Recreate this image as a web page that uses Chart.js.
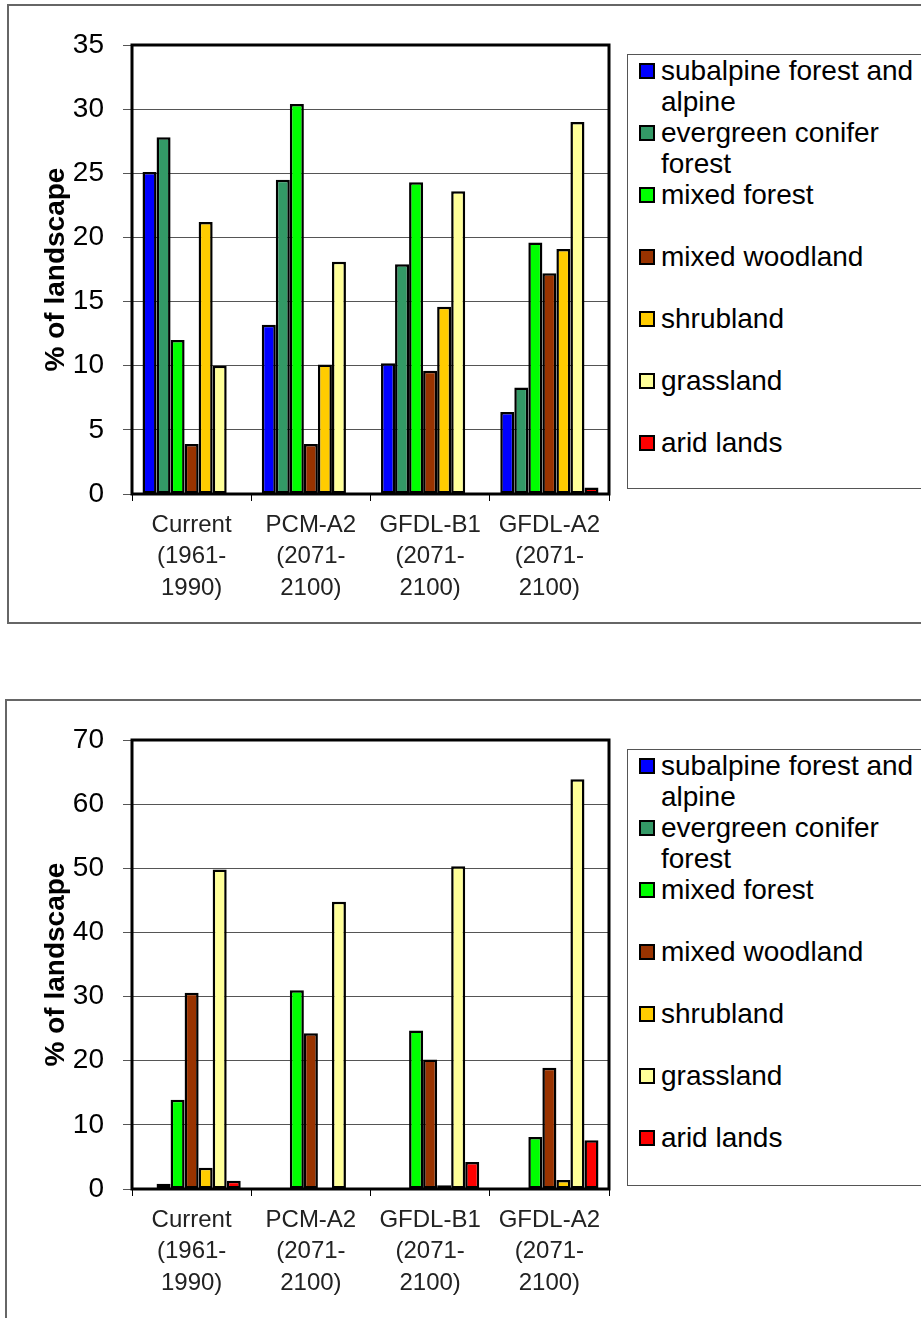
<!DOCTYPE html>
<html lang="en">
<head>
<meta charset="UTF-8">
<title>% of landscape</title>
<script src="https://cdn.jsdelivr.net/npm/chart.js"></script>
<style>
  body {
    margin: 0;
    width: 921px;
    height: 1318px;
    overflow: hidden;
    background: #fff;
    position: relative;
    font-family: Arial, "Liberation Sans", sans-serif;
  }
  .frame {
    position: absolute;
    border: 2px solid #666;
    width: 1000px;
  }
  #frame1 { left: 7px; top: 4px; height: 616px; }
  #frame2 { left: 5px; top: 699px; height: 700px; }
  canvas { position: absolute; left: 0; }
  #chart1 { top: 0; }
  #chart2 { top: 695px; }
  .legend {
    position: absolute;
    left: 627px;
    width: 400px;
    height: 433px;
    border: 1px solid #555;
    font-size: 28px;
    color: #000;
  }
  #legend1 { top: 54px; }
  #legend2 { top: 749px; height: 435px; }
  .item {
    position: relative;
    height: 62px;
  }
  .box {
    position: absolute;
    left: 11px;
    top: 8px;
    width: 12px;
    height: 12px;
    border: 2px solid #000;
  }
  .txt {
    position: absolute;
    left: 33px;
    top: 0;
    width: 258px;
    line-height: 31px;
  }
</style>
</head>
<body>

<div class="frame" id="frame1"></div>
<div class="frame" id="frame2"></div>

<canvas id="chart1" width="620" height="630"></canvas>
<canvas id="chart2" width="620" height="630"></canvas>

<div class="legend" id="legend1"></div>
<div class="legend" id="legend2"></div>

<script>
  // categorias (eixo x)
  var categories = [
    ['Current', '(1961-', '1990)'],
    ['PCM-A2', '(2071-', '2100)'],
    ['GFDL-B1', '(2071-', '2100)'],
    ['GFDL-A2', '(2071-', '2100)']
  ];

  var landTypes = ['subalpine forest and alpine', 'evergreen conifer forest', 'mixed forest',
    'mixed woodland', 'shrubland', 'grassland', 'arid lands'];

  var colors = ['#0000FF', '#339966', '#00FF00', '#993300', '#FFCC00', '#FFFF99', '#FF0000'];

  // grafico de cima
  var subalpineTop   = [25.1, 13.2, 10.2, 6.4];
  var evergreenTop   = [27.8, 24.5, 17.9, 8.3];
  var mixedForestTop = [12.0, 30.4, 24.3, 19.6];
  var woodlandTop    = [3.9, 3.9, 9.6, 17.2];
  var shrublandTop   = [21.2, 10.1, 14.6, 19.1];
  var grasslandTop   = [10.0, 18.1, 23.6, 29.0];
  var aridTop        = [0, 0, 0, 0.5];
  var ticksTop = [0, 5, 10, 15, 20, 25, 30, 35];

  // grafico de baixo
  var subalpineBottom   = [0, 0, 0, 0];
  var evergreenBottom   = [0.8, 0, 0, 0];
  var mixedForestBottom = [13.9, 31.0, 24.7, 8.1];
  var woodlandBottom    = [30.6, 24.3, 20.2, 18.9];
  var shrublandBottom   = [3.3, 0, 0.6, 1.4];
  var grasslandBottom   = [49.8, 44.8, 50.3, 63.9];
  var aridBottom        = [1.3, 0, 4.2, 7.6];
  var ticksBottom = [0, 10, 20, 30, 40, 50, 60, 70];

  var fontFamily = 'Arial, "Liberation Sans", sans-serif';

  // borda preta em volta da area do grafico
  var plotBorder = {
    id: 'plotBorder',
    afterDraw(chart) {
      var a = chart.chartArea;
      var ctx = chart.ctx;
      ctx.save();
      ctx.strokeStyle = '#000';
      ctx.lineWidth = 3;
      ctx.strokeRect(a.left, a.top, a.right - a.left, a.bottom - a.top);
      ctx.restore();
    }
  };

  function makeChart(id, series, tickValues) {
    var datasets = [];
    for (let i = 0; i < series.length; i++) {
      datasets.push({
        label: landTypes[i],
        data: series[i],
        backgroundColor: colors[i],
        borderColor: '#000',
        borderWidth: 2.5,
        borderSkipped: false,
        categoryPercentage: 7 / 8.5,
        barPercentage: 1
      });
    }

    return new Chart(document.getElementById(id), {
      type: 'bar',
      data: { labels: categories, datasets: datasets },
      options: {
        responsive: false,
        animation: false,
        devicePixelRatio: 1,
        layout: { padding: { left: 0, top: 45, right: 11, bottom: 0 } },
        plugins: {
          legend: { display: false },
          tooltip: { enabled: false }
        },
        scales: {
          x: {
            afterFit: function (s) { s.height = 136; },
            grid: {
              display: true,
              drawOnChartArea: false,
              drawTicks: true,
              tickLength: 7,
              color: '#000',
              offset: true
            },
            border: { display: false },
            ticks: {
              color: '#222',
              padding: 9,
              maxRotation: 0,
              autoSkip: false,
              font: { family: fontFamily, size: 24, lineHeight: 1.3 }
            }
          },
          y: {
            min: tickValues[0],
            max: tickValues[tickValues.length - 1],
            afterFit: function (s) { s.width = 132; },
            afterBuildTicks: function (s) {
              s.ticks = tickValues.map(v => ({ value: v }));
            },
            grid: {
              color: '#555',
              lineWidth: 1,
              tickLength: 9
            },
            border: { display: false },
            ticks: {
              color: '#000',
              padding: 19,
              font: { family: fontFamily, size: 28 }
            },
            title: {
              display: true,
              text: '% of landscape',
              color: '#000',
              padding: { top: 39, bottom: 0 },
              font: { family: fontFamily, size: 28, weight: 'bold' }
            }
          }
        }
      },
      plugins: [plotBorder]
    });
  }

  function makeLegend(id) {
    var el = document.getElementById(id);
    for (let i = 0; i < landTypes.length; i++) {
      var item = document.createElement('div');
      item.className = 'item';
      var box = document.createElement('div');
      box.className = 'box';
      box.style.background = colors[i];
      var txt = document.createElement('div');
      txt.className = 'txt';
      txt.textContent = landTypes[i];
      item.appendChild(box);
      item.appendChild(txt);
      el.appendChild(item);
    }
  }

  makeChart('chart1', [subalpineTop, evergreenTop, mixedForestTop, woodlandTop, shrublandTop, grasslandTop, aridTop], ticksTop);
  makeChart('chart2', [subalpineBottom, evergreenBottom, mixedForestBottom, woodlandBottom, shrublandBottom, grasslandBottom, aridBottom], ticksBottom);

  makeLegend('legend1');
  makeLegend('legend2');
</script>
</body>
</html>
